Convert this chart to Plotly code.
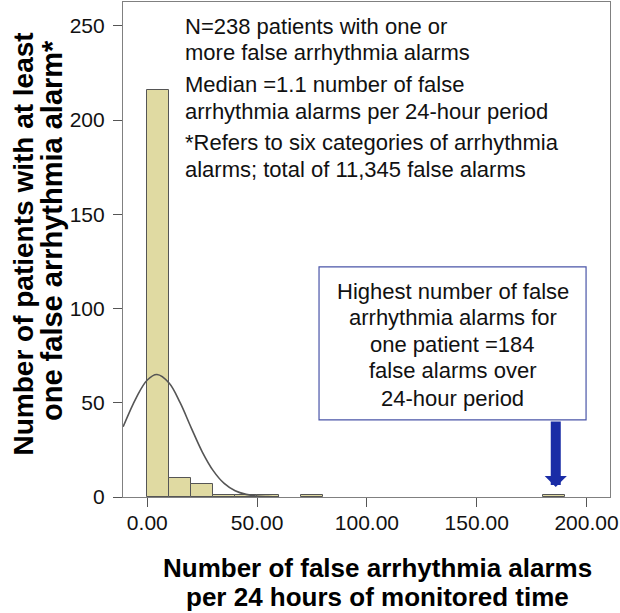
import plotly.graph_objects as go

# ---- data ----
bin_left = [0, 10, 20, 30, 40, 50, 70, 180]
bin_count = [216, 10, 7, 1, 1, 1, 1, 1]
bin_width = 10

# fitted normal curve
curve_x = [-11, -5, 0, 4.4, 10, 15, 20, 25, 30, 35, 40, 45, 50, 55, 60]
curve_y = [37.3, 52.8, 62.1, 65.0, 60.4, 49.9, 36.7, 24.0, 14.0, 7.2, 3.3, 1.4, 0.5, 0.2, 0.05]

x_tickvals = [0, 50, 100, 150, 200]
x_ticktext = ["0.00", "50.00", "100.00", "150.00", "200.00"]
y_tickvals = [0, 50, 100, 150, 200, 250]
y_ticktext = ["0", "50", "100", "150", "200", "250"]

n_patients = 238
median_alarms = 1.1
max_alarms = 184
total_alarms = "11,345"

FONT = "Liberation Sans, Arial, sans-serif"

fig = go.Figure()
fig.add_trace(go.Bar(
    x=bin_left, y=bin_count, width=bin_width, offset=0,
    marker=dict(color="#E0DAA2", line=dict(color="#555555", width=1)),
    showlegend=False, hoverinfo="skip"))
fig.add_trace(go.Scatter(
    x=curve_x, y=curve_y, mode="lines",
    line=dict(color="#555555", width=1.6, shape="spline"),
    showlegend=False, hoverinfo="skip"))

axis_common = dict(
    showline=True, linecolor="#808080", linewidth=1.2, mirror=True,
    showgrid=False, zeroline=False, ticks="outside", ticklen=9,
    tickcolor="#555555", tickwidth=1.2,
    tickfont=dict(family=FONT, size=21, color="#111111"))

fig.update_layout(
    width=620, height=613,
    margin=dict(l=123, r=10, t=2, b=116),
    plot_bgcolor="white", paper_bgcolor="white",
    bargap=0,
    xaxis=dict(range=[-11.07, 210.7], tickvals=x_tickvals, ticktext=x_ticktext,
               ticklabelstandoff=-2, **axis_common),
    yaxis=dict(range=[0, 262.7], tickvals=y_tickvals, ticktext=y_ticktext,
               ticklabelstandoff=4, **axis_common),
)

txt_font = dict(family=FONT, size=22, color="#111111")

# note lines at the top (left aligned)
note_lines = [
    (249.5, f"N={n_patients} patients with one or"),
    (235.7, "more false arrhythmia alarms"),
    (218.7, f"Median ={median_alarms} number of false"),
    (204.4, "arrhythmia alarms per 24-hour period"),
    (187.9, "*Refers to six categories of arrhythmia"),
    (173.6, f"alarms; total of {total_alarms} false alarms"),
]
for yv, t in note_lines:
    fig.add_annotation(x=16.4, y=yv, xref="x", yref="y", text=t, showarrow=False,
                       xanchor="left", yanchor="middle", align="left", font=txt_font)

# callout box
fig.add_shape(type="rect", xref="x", yref="y", x0=78.2, x1=199.8, y0=40.9, y1=122.1,
              line=dict(color="#4a55a8", width=1.2), fillcolor="white", layer="above")
box_lines = [
    (108.8, "Highest number of false"),
    (95.0, "arrhythmia alarms for"),
    (81.2, f"one patient ={max_alarms}"),
    (67.4, "false alarms over"),
    (52.5, "24-hour period"),
]
for yv, t in box_lines:
    fig.add_annotation(x=139, y=yv, xref="x", yref="y", text=t, showarrow=False,
                       xanchor="center", yanchor="middle", font=txt_font)

# arrow pointing at the highest value
fig.add_annotation(
    x=186, y=1, xref="x", yref="y", ax=186, ay=40.9, axref="x", ayref="y",
    text="", showarrow=True, arrowhead=1, arrowsize=0.37, arrowwidth=10,
    arrowcolor="#1a2ca6", standoff=8)

# axis titles (each line as its own text)
xt_font = dict(family=FONT, size=26, color="#000000")
yt_font = dict(family=FONT, size=28, color="#000000")
yt_font2 = dict(family=FONT, size=29, color="#000000")
fig.add_annotation(x=0.5216, y=-0.1434, xref="paper", yref="paper", showarrow=False,
                   text="<b>Number of false arrhythmia alarms</b>", font=xt_font,
                   xanchor="center", yanchor="middle")
fig.add_annotation(x=0.5216, y=-0.202, xref="paper", yref="paper", showarrow=False,
                   text="<b>per 24 hours of monitored time</b>", font=xt_font,
                   xanchor="center", yanchor="middle")
fig.add_annotation(x=-0.2053, y=0.5101, xref="paper", yref="paper", showarrow=False,
                   text="<b>Number of patients with at least</b>", font=yt_font,
                   textangle=-90, xanchor="center", yanchor="middle")
fig.add_annotation(x=-0.1458, y=0.5394, xref="paper", yref="paper", showarrow=False,
                   text="<b>one false arrhythmia alarm*</b>", font=yt_font2,
                   textangle=-90, xanchor="center", yanchor="middle")

fig.write_html("out.html", config={"displayModeBar": False},
               post_script="document.body.style.margin='0';")
